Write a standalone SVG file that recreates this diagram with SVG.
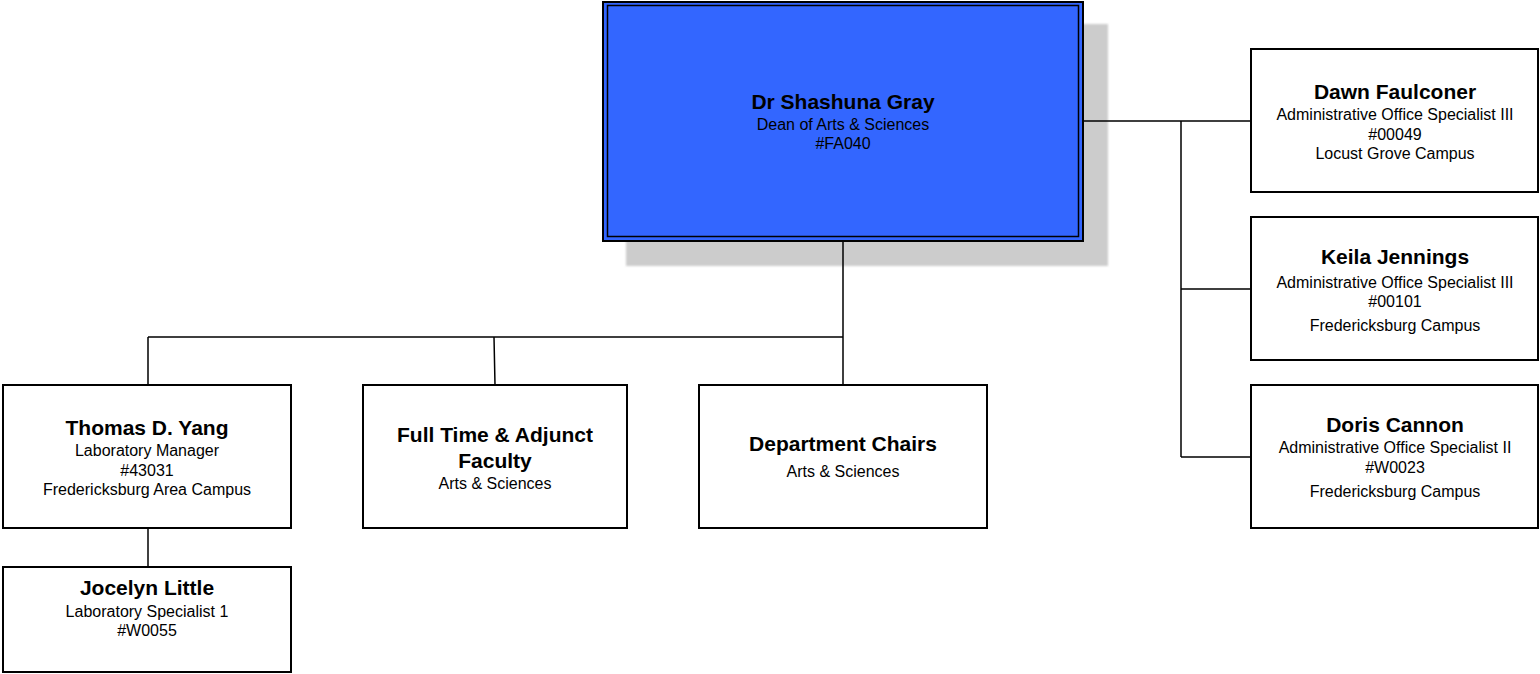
<svg xmlns="http://www.w3.org/2000/svg" width="1540" height="674" viewBox="0 0 1540 674">
<style>
.box{fill:#ffffff;stroke:#000000;stroke-width:2}
.name{font-family:"Liberation Sans",Arial,sans-serif;font-weight:bold;font-size:21px;fill:#000;text-anchor:middle}
.sub{font-family:"Liberation Sans",Arial,sans-serif;font-size:16px;fill:#000;text-anchor:middle}
.conn{fill:none;stroke:#000;stroke-width:1.5}
</style>
<defs>
<filter id="blur" x="-5%" y="-5%" width="110%" height="110%"><feGaussianBlur stdDeviation="1"/></filter>
</defs>
<rect width="1540" height="674" fill="#ffffff"/>
<g id="dean">
<rect x="626" y="24" width="482" height="242" fill="#cccccc" filter="url(#blur)"/>
<rect x="603" y="2" width="480" height="239" fill="#3366ff" stroke="#000" stroke-width="2"/>
<rect x="607.5" y="5.5" width="471" height="231" fill="none" stroke="#000" stroke-width="1.5"/>
<text class="name" x="843" y="109">Dr Shashuna Gray</text>
<text class="sub" x="843" y="130">Dean of Arts &amp; Sciences</text>
<text class="sub" x="843" y="149">#FA040</text>
</g>
<g id="connectors">
<path class="conn" d="M843 241 V337 M148 337 H843 M148 337 V385 M494 337 L495 385 M843 337 V385"/>
<path class="conn" d="M148 528 V567"/>
<path class="conn" d="M1083 121 H1251 M1181 121 V457 M1181 289 H1251 M1181 457 H1251"/>
</g>
<g id="dawn">
<rect class="box" x="1251" y="49" width="287" height="143"/>
<text class="name" x="1395" y="99">Dawn Faulconer</text>
<text class="sub" x="1395" y="120">Administrative Office Specialist  III</text>
<text class="sub" x="1395" y="140">#00049</text>
<text class="sub" x="1395" y="159">Locust Grove Campus</text>
</g>
<g id="keila">
<rect class="box" x="1251" y="217" width="287" height="143"/>
<text class="name" x="1395" y="264">Keila Jennings</text>
<text class="sub" x="1395" y="288">Administrative Office Specialist III</text>
<text class="sub" x="1395" y="307">#00101</text>
<text class="sub" x="1395" y="331">Fredericksburg Campus</text>
</g>
<g id="doris">
<rect class="box" x="1251" y="385" width="287" height="143"/>
<text class="name" x="1395" y="432">Doris Cannon</text>
<text class="sub" x="1395" y="453">Administrative Office Specialist II</text>
<text class="sub" x="1395" y="473">#W0023</text>
<text class="sub" x="1395" y="497">Fredericksburg Campus</text>
</g>
<g id="thomas">
<rect class="box" x="3" y="385" width="288" height="143"/>
<text class="name" x="147" y="435">Thomas D. Yang</text>
<text class="sub" x="147" y="456">Laboratory Manager</text>
<text class="sub" x="147" y="476">#43031</text>
<text class="sub" x="147" y="495">Fredericksburg Area Campus</text>
</g>
<g id="jocelyn">
<rect class="box" x="3" y="567" width="288" height="105"/>
<text class="name" x="147" y="595">Jocelyn Little</text>
<text class="sub" x="147" y="617">Laboratory Specialist 1</text>
<text class="sub" x="147" y="636">#W0055</text>
</g>
<g id="faculty">
<rect class="box" x="363" y="385" width="264" height="143"/>
<text class="name" x="495" y="442">Full Time &amp; Adjunct</text>
<text class="name" x="495" y="468">Faculty</text>
<text class="sub" x="495" y="489">Arts &amp; Sciences</text>
</g>
<g id="chairs">
<rect class="box" x="699" y="385" width="288" height="143"/>
<text class="name" x="843" y="451">Department Chairs</text>
<text class="sub" x="843" y="477">Arts &amp; Sciences</text>
</g>
</svg>
